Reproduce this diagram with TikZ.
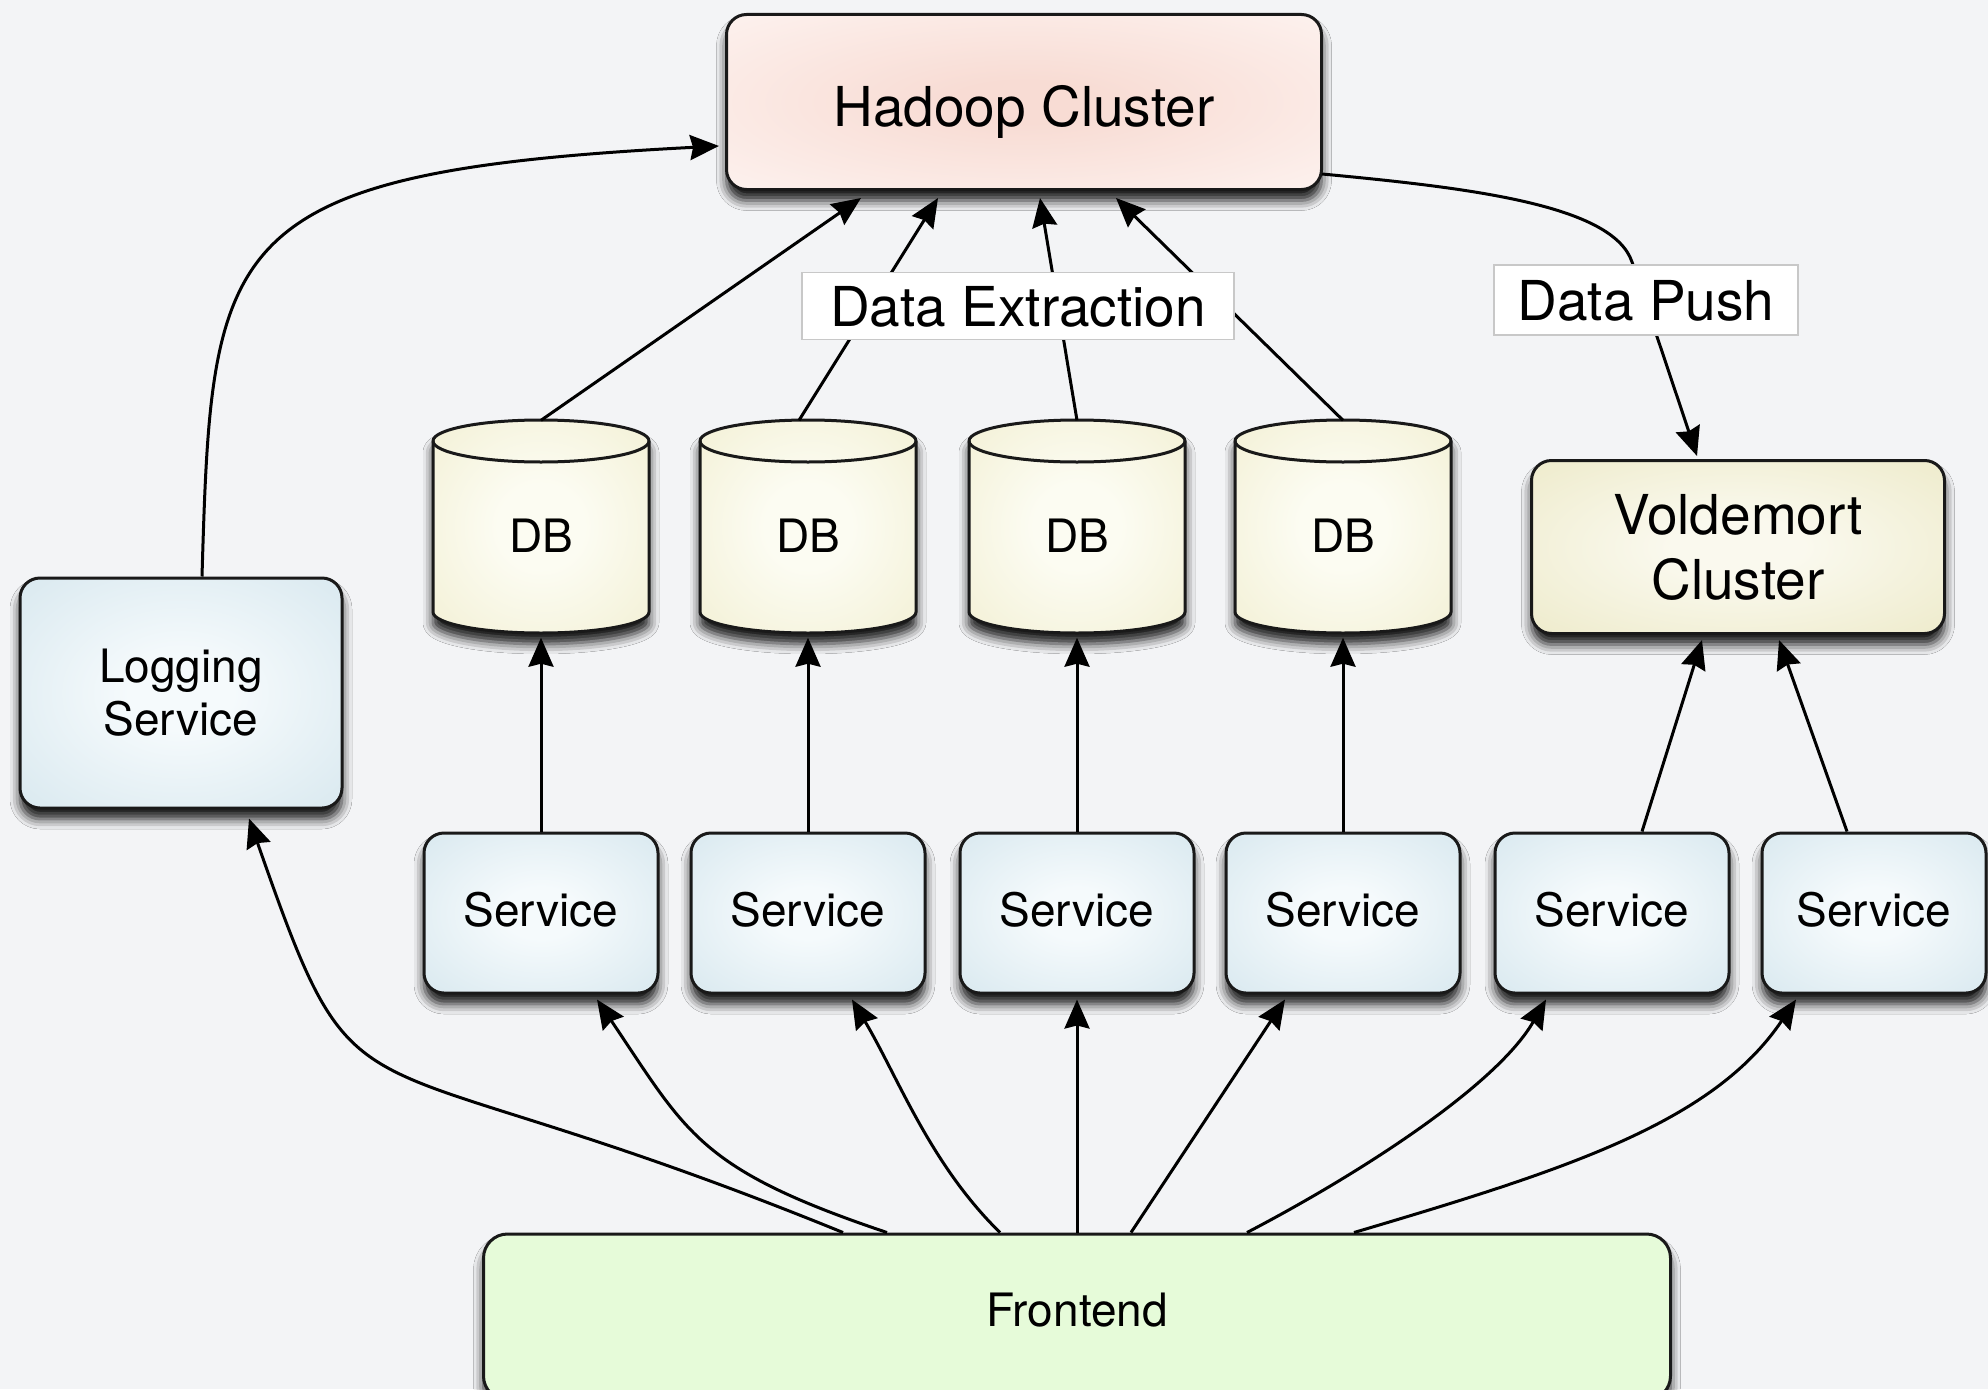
\documentclass[tikz,border=0pt]{standalone}
\usepackage{fontspec}
\setmainfont{TeX Gyre Heros}
\usetikzlibrary{arrows.meta,calc,shadows.blur}

\definecolor{bgc}{RGB}{243,244,246}
\definecolor{hadIn}{RGB}{248,220,212}
\definecolor{hadOut}{RGB}{255,252,251}
\definecolor{servIn}{RGB}{245,250,252}
\definecolor{servOut}{RGB}{203,224,233}
\definecolor{dbIn}{RGB}{252,252,242}
\definecolor{dbOut}{RGB}{238,234,198}
\definecolor{voldIn}{RGB}{250,249,238}
\definecolor{voldOut}{RGB}{232,228,186}
\definecolor{frontc}{RGB}{230,251,217}
\definecolor{tagline}{RGB}{200,200,200}

\pgfdeclareradialshading{hadsh}{\pgfpointorigin}{color(0bp)=(hadIn); color(6bp)=(hadIn); color(50bp)=(hadOut); color(100bp)=(hadOut)}
\pgfdeclareradialshading{servsh}{\pgfpointorigin}{color(0bp)=(servIn); color(8bp)=(servIn); color(50bp)=(servOut); color(100bp)=(servOut)}
\pgfdeclareradialshading{dbsh}{\pgfpointorigin}{color(0bp)=(dbIn); color(10bp)=(dbIn); color(50bp)=(dbOut); color(100bp)=(dbOut)}
\pgfdeclareradialshading{voldsh}{\pgfpointorigin}{color(0bp)=(voldIn); color(8bp)=(voldIn); color(50bp)=(voldOut); color(100bp)=(voldOut)}

\tikzset{
  softshadow/.style={blur shadow={shadow xshift=0pt, shadow yshift=-11pt, shadow blur radius=10pt, shadow opacity=90}},
  shbox/.style={rounded corners=20pt, draw=black!90, line width=3pt, inner sep=0pt, softshadow},
  bigtxt/.style={font=\fontsize{55}{65}\selectfont},
  smalltxt/.style={font=\fontsize{46}{53}\selectfont},
  conn/.style={line width=3pt, draw=black, -{Stealth[length=29pt,width=25pt,inset=3pt]}},
  tag/.style={fill=white, draw=tagline, line width=1.6pt, inner sep=0pt, bigtxt},
  dbnode/.style={rectangle, inner sep=0pt, minimum width=216pt, minimum height=213pt},
}

\begin{document}
\begin{tikzpicture}[x=1pt,y=-1pt]
\useasboundingbox (0,0) rectangle (1988,1389);
\clip (0,0) rectangle (1988,1389);
\fill[bgc] (0,0) rectangle (1988,1389);

% main boxes
\node[shbox, shading=hadsh, minimum width=595pt, minimum height=175pt, bigtxt, text height=48pt, text depth=0pt] (hadoop) at (1024,102) {Hadoop Cluster};
\node[shbox, shading=voldsh, minimum width=413pt, minimum height=173pt, bigtxt, align=center] (vold) at (1738,547) {Voldemort\\Cluster};
\node[shbox, shading=servsh, minimum width=322pt, minimum height=230pt, smalltxt, align=center] (logging) at (181,693) {Logging\\Service};

% services
\foreach \i/\x in {1/541,2/808,3/1077,4/1343,5/1612}{
  \node[shbox, shading=servsh, minimum width=234pt, minimum height=160pt, smalltxt, text depth=8pt] (s\i) at (\x,913) {Service};
}
\node[shbox, shading=servsh, minimum width=224pt, minimum height=160pt, smalltxt, text depth=8pt] (s6) at (1874,913) {Service};

% databases
\foreach \i/\x in {1/541,2/808,3/1077,4/1343}{
  \path[softshadow, shading=dbsh, draw=black!90, line width=3pt]
    (\x-108,441) -- (\x-108,612)
    arc[start angle=180, end angle=360, x radius=108pt, y radius=21pt]
    -- (\x+108,441)
    arc[start angle=0, end angle=180, x radius=108pt, y radius=21pt] -- cycle;
  \draw[line width=3pt, black!90] (\x-108,441)
    arc[start angle=180, end angle=360, x radius=108pt, y radius=21pt];
  \node[dbnode, label={[smalltxt, text depth=0pt, yshift=-9pt]center:DB}] (db\i) at (\x,527) {};
}

% frontend
\node[rounded corners=24pt, draw=black!90, line width=3pt, inner sep=0pt, softshadow, fill=frontc,
      minimum width=1187pt, minimum height=166pt, smalltxt, text depth=14pt] (front) at (1077,1317) {Frontend};

% connectors
\draw[conn] ([xshift=21pt]logging.north) .. controls (212,240) and (215,172) .. ($(hadoop.west)+(-6,44)$);

\draw[conn] (db1.north) -- ($(hadoop.south west)+(136,7)$);
\draw[conn] ([xshift=-9pt]db2.north) -- ($(hadoop.south west)+(213,7)$);
\draw[conn] (db3.north) -- ($(hadoop.south west)+(315,7)$);
\draw[conn] (db4.north) -- ($(hadoop.south west)+(391,7)$);

\draw[conn] ($(hadoop.south east)+(-1,-17)$) .. controls (1471,188) and (1613,205) .. (1632,262) -- ($(vold.north)+(-41,-3)$);

\foreach \i in {1,...,4}{
  \draw[conn] (s\i.north) -- ($(db\i.south)+(0,4)$);
}
\draw[conn] ([xshift=30pt]s5.north) -- ($(vold.south)+(-36,5)$);
\draw[conn] ([xshift=-27pt]s6.north) -- ($(vold.south)+(41,5)$);

\draw[conn] ($(front.north)+(-234,0)$) .. controls (334,1025) and (364,1147) .. ($(logging.south)+(68,9)$);
\draw[conn] ($(front.north)+(-190,0)$) .. controls (698,1169) and (687,1133) .. ($(s1.south)+(56,5)$);
\draw[conn] ($(front.north)+(-77,0)$) .. controls (930,1164) and (898,1077) .. ($(s2.south)+(44,5)$);
\draw[conn] (front.north) -- ($(s3.south)+(0,5)$);
\draw[conn] ($(front.north)+(54,0)$) -- ($(s4.south)+(-58,5)$);
\draw[conn] ($(front.north)+(170,0)$) .. controls (1361,1173) and (1497,1085) .. ($(s5.south)+(-66,5)$);
\draw[conn] ($(front.north)+(277,0)$) .. controls (1565,1170) and (1713,1123) .. ($(s6.south)+(-78,5)$);

% edge labels
\node[tag, minimum width=432pt, minimum height=67pt, text depth=0pt] (dext) at (1018,306) {Data Extraction};
\node[tag, minimum width=304pt, minimum height=70pt, text depth=0pt] (dpush) at (1646,300) {Data Push};
\end{tikzpicture}
\end{document}
